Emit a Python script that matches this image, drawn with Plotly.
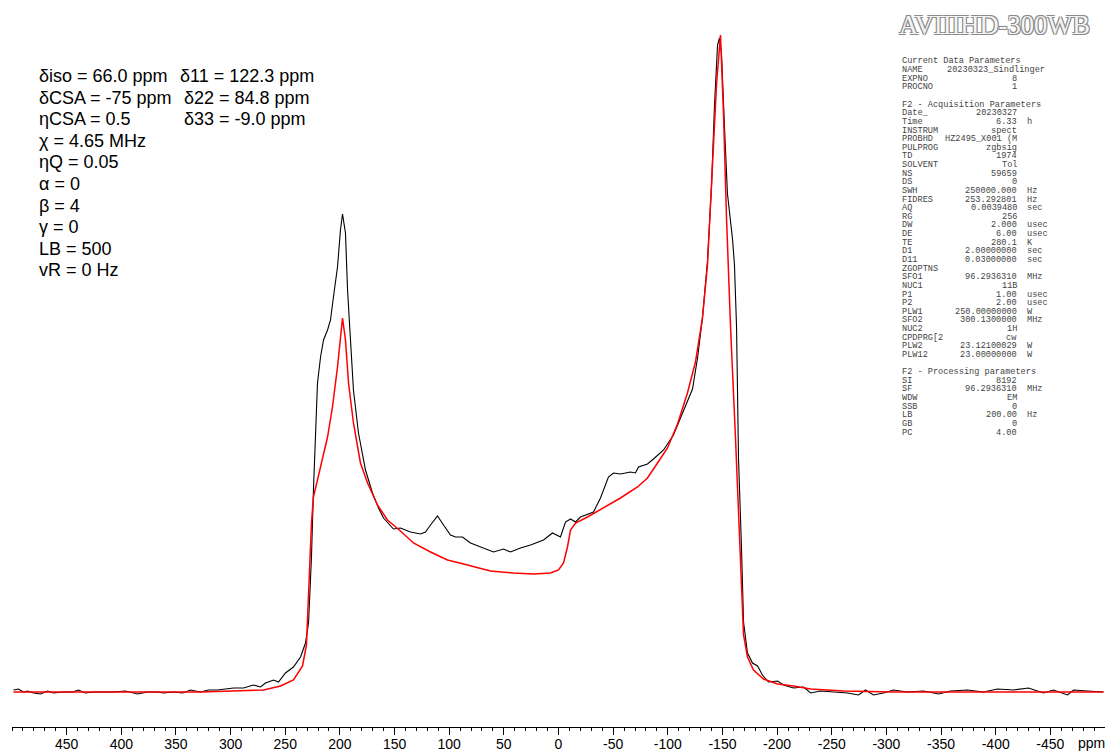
import plotly.graph_objects as go

# ---------------- data ----------------
# experimental 11B spectrum (black), chemical shift in ppm, intensity in a.u.
exp_ppm = [498.6, 494.1, 489.5, 485.8, 480.3, 473.9, 467.5, 462.0, 452.9, 444.6,
           439.2, 432.8, 425.4, 416.3, 407.1, 396.2, 385.2, 376.0, 366.9, 361.4,
           352.2, 344.0, 336.7, 327.5, 320.2, 312.0, 306.5, 297.3, 288.2, 279.0,
           272.6, 268.1, 260.7, 256.2, 249.8, 242.5, 236.0, 231.5, 228.7, 226.0,
           224.2, 222.3, 220.5, 217.7, 215.0, 211.3, 208.6, 205.9, 202.2, 199.5,
           197.6, 194.9, 193.0, 190.3, 187.6, 183.0, 176.6, 170.2, 164.7, 160.1,
           155.5, 151.0, 144.6, 135.4, 126.3, 121.7, 117.1, 110.7, 105.2, 98.8,
           94.2, 87.8, 80.5, 71.4, 59.5, 50.3, 43.9, 34.8, 25.6, 13.7,
           5.5, -1.8, -6.4, -11.0, -15.6, -20.1, -32.0, -38.4, -45.7, -50.3,
           -56.7, -65.9, -70.4, -73.2, -81.4, -86.9, -96.1, -105.2, -114.4, -122.6,
           -127.2, -131.7, -136.3, -140.0, -142.7, -145.5, -147.3, -149.1, -151.9, -154.6,
           -159.2, -161.0, -162.9, -164.7, -167.4, -169.3, -172.9, -177.5, -182.1, -186.6,
           -192.1, -200.4, -205.9, -215.0, -224.2, -230.6, -239.7, -251.6, -264.4, -274.5,
           -280.9, -288.2, -297.3, -306.5, -319.3, -333.9, -347.7, -358.6, -374.2, -388.8,
           -401.6, -416.3, -430.0, -443.7, -452.9, -465.7, -471.2, -484.0, -498.6]
exp_int = [2, 3, 0, 1, -1, -2, 1, -1, 0, 0,
           2, -1, 0, 0, 0, 1, -2, 0, 0, -1,
           0, -1, 2, 0, 2, 2, 3, 4, 4, 7,
           5, 9, 12, 10, 19, 25, 35, 49, 69, 135,
           202, 269, 309, 335, 352, 362, 372, 395, 425, 462,
           478, 459, 402, 352, 302, 259, 222, 199, 184, 174,
           168, 163, 164, 160, 158, 160, 167, 176, 167, 157,
           155, 155, 149, 145, 140, 143, 140, 144, 147, 152,
           159, 155, 170, 173, 170, 175, 180, 194, 215, 219,
           218, 220, 219, 225, 228, 233, 242, 257, 281, 303,
           334, 374, 431, 506, 586, 647, 654, 639, 564, 498,
           453, 427, 365, 233, 145, 70, 39, 29, 26, 17,
           10, 11, 7, 4, 5, -1, 1, 0, -1, -3,
           2, -3, -1, 2, 0, 1, -2, 1, 2, 0,
           3, 2, 4, -1, 2, -3, 2, 1, 0]

# simulated spectrum (red)
sim_ppm = [498.6, 419.0, 327.5, 269.9, 254.3, 242.5, 234.2, 230.6, 228.7, 226.0,
           224.2, 220.5, 215.9, 211.3, 206.8, 202.2, 197.6, 194.9, 192.1, 187.6,
           181.2, 174.7, 165.6, 156.5, 144.6, 132.7, 117.1, 101.6, 83.3, 62.2,
           41.2, 22.9, 7.3, 0.0, -4.6, -8.2, -11.0, -15.6, -26.5, -41.2,
           -56.7, -72.3, -81.4, -90.6, -99.7, -108.9, -118.0, -125.3, -131.7, -136.3,
           -140.9, -144.6, -148.2, -151.0, -153.7, -157.4, -161.9, -166.5, -169.3, -172.9,
           -178.4, -187.6, -200.4, -215.0, -230.6, -260.8, -306.5, -498.6]
sim_int = [0, 0, 0, 2, 6, 12, 26, 47, 97, 169,
           195, 212, 232, 255, 285, 325, 374, 352, 309, 269,
           229, 209, 187, 172, 161, 149, 140, 132, 127, 121,
           119, 118, 119, 122, 129, 145, 162, 169, 175, 184,
           194, 205, 214, 229, 244, 268, 299, 330, 374, 427,
           520, 608, 657, 577, 475, 365, 255, 123, 57, 35,
           22, 13, 8, 6, 3, 1, 0, 0]

major_ticks = [450, 400, 350, 300, 250, 200, 150, 100, 50, 0,
               -50, -100, -150, -200, -250, -300, -350, -400, -450]
major_labels = ["450", "400", "350", "300", "250", "200", "150", "100", "50", "0",
                "-50", "-100", "-150", "-200", "-250", "-300", "-350", "-400", "-450"]
minor_ticks = list(range(500, -501, -10))

fit_left = ["δiso = 66.0 ppm", "δCSA = -75 ppm", "ηCSA = 0.5", "χ = 4.65 MHz",
            "ηQ = 0.05", "α = 0", "β = 4", "γ = 0", "LB = 500", "vR = 0 Hz"]
fit_right = ["δ11 = 122.3 ppm", "δ22 = 84.8 ppm", "δ33 = -9.0 ppm"]

# Bruker parameter list: (name, value, unit)
params = [
    ("Current Data Parameters", None, None),
    ("NAME", "20230323_Sindlinger", "L"),
    ("EXPNO", "8", ""),
    ("PROCNO", "1", ""),
    (None, None, None),
    ("F2 - Acquisition Parameters", None, None),
    ("Date_", "20230327", ""),
    ("Time", "6.33", "h"),
    ("INSTRUM", "spect", ""),
    ("PROBHD", "HZ2495_X001 (M", ""),
    ("PULPROG", "zgbsig", ""),
    ("TD", "1974", ""),
    ("SOLVENT", "Tol", ""),
    ("NS", "59659", ""),
    ("DS", "0", ""),
    ("SWH", "250000.000", "Hz"),
    ("FIDRES", "253.292801", "Hz"),
    ("AQ", "0.0039480", "sec"),
    ("RG", "256", ""),
    ("DW", "2.000", "usec"),
    ("DE", "6.00", "usec"),
    ("TE", "280.1", "K"),
    ("D1", "2.00000000", "sec"),
    ("D11", "0.03000000", "sec"),
    ("ZGOPTNS", "", ""),
    ("SFO1", "96.2936310", "MHz"),
    ("NUC1", "11B", ""),
    ("P1", "1.00", "usec"),
    ("P2", "2.00", "usec"),
    ("PLW1", "250.00000000", "W"),
    ("SFO2", "300.1300000", "MHz"),
    ("NUC2", "1H", ""),
    ("CPDPRG[2", "cw", ""),
    ("PLW2", "23.12100029", "W"),
    ("PLW12", "23.00000000", "W"),
    (None, None, None),
    ("F2 - Processing parameters", None, None),
    ("SI", "8192", ""),
    ("SF", "96.2936310", "MHz"),
    ("WDW", "EM", ""),
    ("SSB", "0", ""),
    ("LB", "200.00", "Hz"),
    ("GB", "0", ""),
    ("PC", "4.00", ""),
]

# ---------------- figure ----------------
W, H = 1105, 751
ML, MR, MT, MB = 12, 0, 0, 24
PW, PH = W - ML - MR, H - MT - MB


def px(x):
    return (x - ML) / PW


def py(y):
    return 1 - (y - MT) / PH


fig = go.Figure()
fig.add_trace(go.Scatter(x=exp_ppm, y=exp_int, mode="lines",
                         line=dict(color="black", width=1.1), hoverinfo="skip"))
fig.add_trace(go.Scatter(x=sim_ppm, y=sim_int, mode="lines",
                         line=dict(color="#ff0000", width=1.5), hoverinfo="skip"))

ann = []
sans = "Liberation Sans, Arial, sans-serif"
mono = "Liberation Mono, Courier New, monospace"

# fit parameters (left)
y0, dy = 76, 21.6
for i, t in enumerate(fit_left):
    ann.append(dict(x=px(37), y=py(y0 + i * dy), text=t, xanchor="left", yanchor="middle",
                    font=dict(family=sans, size=18, color="black")))
for i, t in enumerate(fit_right):
    xx = 178 if i == 0 else 182
    ann.append(dict(x=px(xx), y=py(y0 + i * dy), text=t, xanchor="left", yanchor="middle",
                    font=dict(family=sans, size=18, color="black")))

# spectrometer title
ann.append(dict(x=px(1092), y=py(25), text="AVIIIHD-300WB", xanchor="right", yanchor="middle",
                font=dict(family="Liberation Serif, Times New Roman, serif", size=26.5, color="#f4f4f4",
                          shadow="-1px -1px 0 #8a8a8a, 1px -1px 0 #8a8a8a, -1px 1px 0 #8a8a8a, 1px 1px 0 #8a8a8a")))

# parameter list
pf = dict(family=mono, size=8.6, color="#444444")
py0, pdy = 61.5, 8.63
for i, (name, val, unit) in enumerate(params):
    if name is None:
        continue
    yy = py(py0 + i * pdy)
    ann.append(dict(x=px(900), y=yy, text=name.replace(" ", "\u00a0"), xanchor="left",
                    yanchor="middle", font=pf))
    if val:
        if unit == "L":
            ann.append(dict(x=px(945), y=yy, text=val, xanchor="left", yanchor="middle", font=pf))
        else:
            ann.append(dict(x=px(1019), y=yy, text=val.replace(" ", "\u00a0"), xanchor="right",
                            yanchor="middle", font=pf))
    if unit and unit != "L":
        ann.append(dict(x=px(1025), y=yy, text=unit, xanchor="left", yanchor="middle", font=pf))

# axis unit
ann.append(dict(x=px(1091), y=py(743), text="ppm", xanchor="center", yanchor="middle",
                font=dict(family=sans, size=14, color="black")))

for a in ann:
    a.update(xref="paper", yref="paper", showarrow=False)

fig.update_layout(
    width=W, height=H, margin=dict(l=ML, r=MR, t=MT, b=MB, autoexpand=False),
    paper_bgcolor="white", plot_bgcolor="white", showlegend=False,
    annotations=ann,
    xaxis=dict(range=[500, -500], showgrid=False, zeroline=False, automargin=False,
               showline=True, linecolor="black", linewidth=1,
               tickmode="array", tickvals=major_ticks, ticktext=major_labels,
               ticks="outside", ticklen=7, tickwidth=1, tickcolor="black",
               ticklabelstandoff=-3,
               tickfont=dict(family=sans, size=14, color="black"),
               minor=dict(tickmode="array", tickvals=minor_ticks, ticks="outside",
                          ticklen=3, tickwidth=1, tickcolor="black")),
    yaxis=dict(range=[-35, 692], visible=False, showgrid=False, zeroline=False,
               automargin=False),
)

fig.write_html("out.html")
